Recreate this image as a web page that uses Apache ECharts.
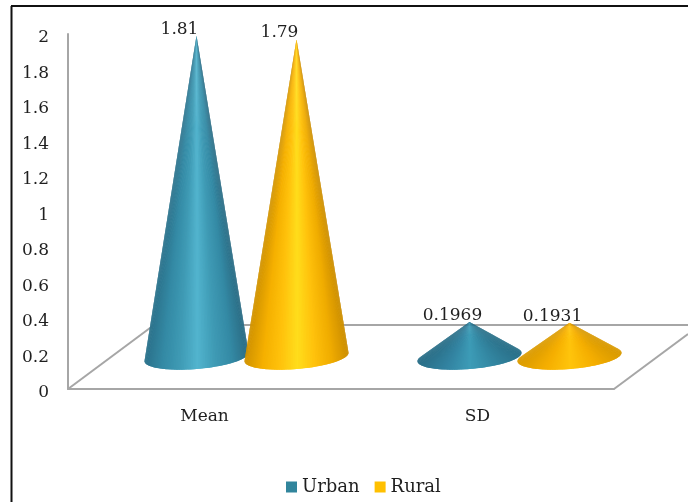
<!DOCTYPE html>
<html>
<head>
<meta charset="utf-8">
<style>html,body{margin:0;padding:0;background:#fff}#c{width:688px;height:502px}</style>
<script src="https://cdn.jsdelivr.net/npm/echarts@6/dist/echarts.min.js"></script>
</head>
<body>
<div id="c"></div>
<script>
const categories = ['Mean', 'SD'];
const urban = [1.81, 0.1969];
const rural = [1.79, 0.1931];
const seriesNames = ['Urban', 'Rural'];
const axisMin = 0, axisMax = 2, axisStep = 0.2;

const FONT = '"DejaVu Serif"';
const TEXT = '#1f1f1f';
const AXIS = '#a6a6a6';
const chart = echarts.init(document.getElementById('c'), null, {renderer: 'canvas'});

function cone(dx, tall, short) {
  return function (params, api) {
    const value = api.value(1);
    const c = api.coord([api.value(0), value]);
    const base = api.coord([api.value(0), 0]);
    const tipX = c[0] + 42 + dx;
    const tipY = c[1] - 32;
    const cy = base[1] - 32;
    const rx = 52, ry = 12, slope = 0.08;
    const h = cy - tipY;
    const phi = Math.asin(ry / h) * 180 / Math.PI;
    const palette = value < 0.5 ? short : tall;
    const point = a => {
      const t = a * Math.PI / 180;
      const ex = rx * Math.cos(t);
      return [tipX + ex, cy + ry * Math.sin(t) - ex * slope, ex];
    };
    const children = [];
    const step = 2;
    for (let a = 180 + phi; a > -phi; a -= step) {
      const p = point(a), q = point(Math.max(a - 2 * step, -phi));
      const u = Math.min(1, Math.max(0, (p[2] + rx) / (2 * rx)));
      children.push({
        type: 'polygon',
        shape: {points: [[tipX, tipY], [p[0], p[1]], [q[0], q[1]]]},
        style: {fill: echarts.color.lerp(u, palette)}
      });
    }
    children.push({
      type: 'text',
      x: tipX - 17,
      y: tipY + 2,
      style: {
        text: String(value),
        font: '17px ' + FONT,
        fill: TEXT,
        align: 'center',
        verticalAlign: 'bottom'
      }
    });
    return {type: 'group', children};
  };
}

const urbanTall = ['#2b728b', '#348aa5', '#3f9bb5', '#52b4ce', '#3f9bb5', '#348aa5', '#2b6c84'];
const urbanShort = ['#2a6f88', '#3282a0', '#3d9cb7', '#3285a0', '#2a7089'];
const ruralTall = ['#d19300', '#f5b000', '#ffc20c', '#ffdd1c', '#ffc20c', '#f0ac00', '#cc8e00'];
const ruralShort = ['#dc9c00', '#f5ae00', '#ffc40c', '#f5ae00', '#d99a00'];

chart.setOption({
  animation: false,
  backgroundColor: '#fff',
  grid: {left: 68, right: 74, top: 34, bottom: 113},
  legend: {
    left: 281, top: 473,
    itemWidth: 11, itemHeight: 11, itemGap: 15,
    icon: 'rect',
    textStyle: {fontFamily: FONT, fontSize: 18, color: TEXT},
    data: seriesNames
  },
  xAxis: {
    type: 'category',
    data: categories,
    axisLine: {lineStyle: {color: AXIS, width: 2}},
    axisTick: {show: false},
    axisLabel: {fontFamily: FONT, fontSize: 17, color: TEXT, margin: 19}
  },
  yAxis: {
    type: 'value',
    min: axisMin, max: axisMax, interval: axisStep,
    splitLine: {show: false},
    axisLine: {show: true, lineStyle: {color: AXIS, width: 2}},
    axisTick: {show: false},
    axisLabel: {
      color: TEXT, margin: 19,
      formatter: v => '{a|' + String(Math.round(v * 10) / 10) + '}',
      rich: {a: {fontFamily: FONT, fontSize: 17, color: TEXT, padding: [8, 0, 0, 0]}}
    }
  },
  graphic: [
    {type: 'line', z: 0, shape: {x1: 68, y1: 389, x2: 154, y2: 325}, style: {stroke: AXIS, lineWidth: 2}},
    {type: 'line', z: 0, shape: {x1: 154, y1: 325, x2: 688, y2: 325}, style: {stroke: AXIS, lineWidth: 2}},
    {type: 'line', z: 0, shape: {x1: 614, y1: 389, x2: 688, y2: 334}, style: {stroke: AXIS, lineWidth: 2}},
    {type: 'line', z: 0, shape: {x1: 11.5, y1: 6, x2: 11.5, y2: 502}, style: {stroke: '#111', lineWidth: 2}},
    {type: 'line', z: 0, shape: {x1: 11, y1: 6, x2: 688, y2: 6}, style: {stroke: '#111', lineWidth: 2}}
  ],
  series: [
    {
      name: seriesNames[0], type: 'custom', z: 3,
      renderItem: cone(-50, urbanTall, urbanShort),
      itemStyle: {color: '#31859c'},
      encode: {x: 0, y: 1},
      data: urban.map((v, i) => [categories[i], v])
    },
    {
      name: seriesNames[1], type: 'custom', z: 4,
      renderItem: cone(50, ruralTall, ruralShort),
      itemStyle: {color: '#ffc000'},
      encode: {x: 0, y: 1},
      data: rural.map((v, i) => [categories[i], v])
    }
  ]
});
</script>
</body>
</html>
